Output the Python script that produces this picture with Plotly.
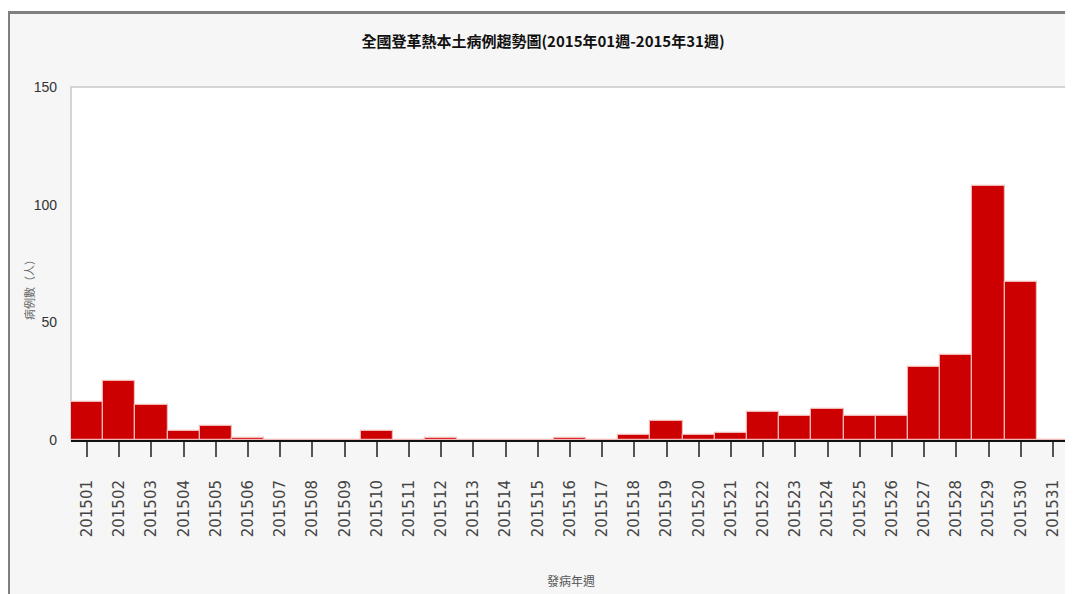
import plotly.graph_objects as go

weeks = [f"2015{i:02d}" for i in range(1, 32)]
cases = [16, 25, 15, 4, 6, 1, 0, 0, 0, 4,
         0, 1, 0, 0, 0, 1, 0, 2, 8, 2,
         3, 12, 10, 13, 10, 10, 31, 36, 108, 67,
         0]
y_ticks = [0, 50, 100, 150]

title_text = "全國登革熱本土病例趨勢圖(2015年01週-2015年31週)"
y_title = "病例數（人）"
x_title = "發病年週"

# the page body adds an 8px margin; work in screen pixels and shift
OFF = 8
SW, SH = 1073, 594
W, H = SW - OFF, SH - OFF
L, R, T, B = 71 - OFF, 1069 - OFF, 87 - OFF, 440 - OFF


def xp(sx):
    return (sx - OFF - L) / (R - L)


def yp(sy):
    return (B - (sy - OFF)) / (B - T)


cjk = "Noto Sans CJK TC, Noto Sans CJK SC, sans-serif"

fig = go.Figure(
    go.Bar(
        x=weeks,
        y=cases,
        marker=dict(color="#cc0000", line=dict(color="#f2b8b8", width=1.2)),
        hoverinfo="x+y",
    )
)

shapes = [
    # plot area border
    dict(type="rect", xref="paper", yref="paper", x0=0, x1=1, y0=0, y1=1,
         line=dict(color="#c8c8c8", width=1.5), layer="below"),
    # white strip above frame
    dict(type="rect", xref="paper", yref="paper", x0=xp(-20), x1=xp(SW + 20),
         y0=yp(11), y1=yp(-20), fillcolor="white", line=dict(width=0), layer="below"),
    # white strip left of frame
    dict(type="rect", xref="paper", yref="paper", x0=xp(-20), x1=xp(7),
         y0=yp(SH + 20), y1=yp(11), fillcolor="white", line=dict(width=0), layer="below"),
    # gray top frame line
    dict(type="rect", xref="paper", yref="paper", x0=xp(7), x1=xp(SW + 20),
         y0=yp(14), y1=yp(11), fillcolor="#7f7f7f", line=dict(width=0), layer="below"),
    # gray left frame line
    dict(type="rect", xref="paper", yref="paper", x0=xp(7), x1=xp(10),
         y0=yp(SH + 20), y1=yp(11), fillcolor="#7f7f7f", line=dict(width=0), layer="below"),
]

fig.update_layout(
    width=W,
    height=H,
    margin=dict(l=L, r=W - R, t=T, b=H - B),
    paper_bgcolor="#f6f6f6",
    plot_bgcolor="white",
    bargap=0,
    showlegend=False,
    shapes=shapes,
    title=dict(
        text=f"<b>{title_text}</b>",
        x=(543 - OFF) / W, xref="container", xanchor="center",
        y=1 - (42 - OFF) / H, yref="container", yanchor="middle",
        font=dict(family=cjk, size=15, color="#111"),
    ),
    annotations=[
        dict(text=y_title, xref="paper", yref="paper", x=xp(29), y=yp(287),
             textangle=-90, showarrow=False, xanchor="center", yanchor="middle",
             font=dict(family=cjk, size=11, color="#666")),
        dict(text=x_title, xref="paper", yref="paper", x=xp(571), y=yp(580),
             showarrow=False, xanchor="center", yanchor="middle",
             font=dict(family=cjk, size=12, color="#555")),
    ],
)

fig.update_xaxes(
    type="category",
    tickangle=-90,
    ticks="outside",
    ticklen=15,
    tickwidth=1.5,
    tickcolor="#555",
    showline=True,
    linecolor="#111",
    linewidth=2,
    showgrid=False,
    ticklabelstandoff=17,
    tickfont=dict(family="DejaVu Sans", size=15, color="#444"),
)

fig.update_yaxes(
    range=[0, 150],
    tickvals=y_ticks,
    ticktext=[str(v) for v in y_ticks],
    showgrid=False,
    zeroline=False,
    showline=False,
    ticks="",
    ticklabelstandoff=13,
    tickfont=dict(family="Liberation Sans Narrow, Liberation Sans", size=14, color="#333"),
)

fig.write_html("out.html")
